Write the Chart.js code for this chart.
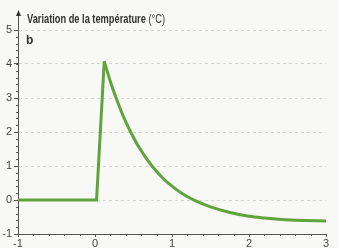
<!DOCTYPE html>
<html>
<head>
<meta charset="utf-8">
<script src="https://cdn.jsdelivr.net/npm/chart.js@4/dist/chart.umd.min.js"></script>
<style>
  html, body { margin: 0; padding: 0; background: #f8f8f6; }
  canvas { display: block; }
</style>
</head>
<body>
<canvas id="myChart" width="339" height="248"></canvas>
<script>
// temperature variation (°C) vs time
const stepX = [-1, 0.02, 0.12];
const stepY = [0, 0, 4.08];
const decayX = [0.12, 0.2, 0.28, 0.36, 0.45, 0.58, 0.74, 0.87, 0.96, 1.13, 1.3, 1.5, 1.74, 2.0, 2.2, 2.42, 2.7, 3.0];
const decayY = [4.08, 3.48, 2.97, 2.5, 2.06, 1.52, 1.0, 0.67, 0.48, 0.19, -0.02, -0.2, -0.36, -0.48, -0.53, -0.57, -0.6, -0.62];
const xTicks = [-1, 0, 1, 2, 3];
const yTicks = [-1, 0, 1, 2, 3, 4, 5];
const titleBold = "Variation de la température";
const titleUnit = " (°C)";
const panelLabel = "b";

const FONT = "'Liberation Sans', Arial, sans-serif";
const GREEN = "#5fa43a";
const AXIS = "#555";

function toPoints(xs, ys) {
  return xs.map((x, i) => ({ x: x, y: ys[i] }));
}

const decorations = {
  id: "decorations",
  afterDraw(chart) {
    const ctx = chart.ctx;
    const xs = chart.scales.x;
    const ys = chart.scales.y;
    const left = chart.chartArea.left;
    const bottom = chart.chartArea.bottom;
    const top = chart.chartArea.top;
    ctx.save();
    ctx.strokeStyle = AXIS;
    ctx.lineWidth = 1;
    // minor ticks every 0.2
    ctx.beginPath();
    for (let i = 0; i <= 20; i++) {
      const px = Math.round(xs.getPixelForValue(xTicks[0] + i * 0.2)) + 0.5;
      ctx.moveTo(px, bottom);
      ctx.lineTo(px, bottom + 2);
    }
    for (let i = 0; i <= 30; i++) {
      const py = Math.round(ys.getPixelForValue(yTicks[0] + i * 0.2)) + 0.5;
      ctx.moveTo(left, py);
      ctx.lineTo(left - 2, py);
    }
    // axis extension above the plot + arrow
    const ax = Math.round(left) + 0.5;
    ctx.moveTo(ax, top);
    ctx.lineTo(ax, 14);
    ctx.stroke();
    ctx.fillStyle = "#333";
    ctx.beginPath();
    ctx.moveTo(ax, 10);
    ctx.lineTo(ax - 2.5, 16);
    ctx.lineTo(ax + 2.5, 16);
    ctx.closePath();
    ctx.fill();
    // title, squeezed to look condensed
    ctx.fillStyle = "#333";
    ctx.textBaseline = "alphabetic";
    ctx.textAlign = "left";
    ctx.font = "bold 12px " + FONT;
    const wb = ctx.measureText(titleBold).width;
    ctx.font = "12px " + FONT;
    const wu = ctx.measureText(titleUnit).width;
    const sx = 138 / (wb + wu);
    ctx.translate(27, 23);
    ctx.scale(sx, 1);
    ctx.font = "bold 12px " + FONT;
    ctx.fillText(titleBold, 0, 0);
    ctx.font = "12px " + FONT;
    ctx.fillText(titleUnit, wb, 0);
    ctx.setTransform(1, 0, 0, 1, 0, 0);
    ctx.font = "bold 12px " + FONT;
    ctx.fillText(panelLabel, 26, 44);
    ctx.restore();
  }
};

const ctx = document.getElementById("myChart").getContext("2d");
const myChart = new Chart(ctx, {
  type: "line",
  data: {
    datasets: [
      {
        data: toPoints(stepX, stepY),
        borderColor: GREEN,
        borderWidth: 3,
        tension: 0,
        pointRadius: 0,
        borderJoinStyle: "miter",
        fill: false
      },
      {
        data: toPoints(decayX, decayY),
        borderColor: GREEN,
        borderWidth: 3,
        cubicInterpolationMode: "monotone",
        pointRadius: 0,
        fill: false
      }
    ]
  },
  options: {
    responsive: false,
    animation: false,
    devicePixelRatio: 1,
    layout: { padding: { top: 30, right: 13, left: 0, bottom: 0 } },
    plugins: {
      legend: { display: false },
      tooltip: { enabled: false }
    },
    scales: {
      x: {
        type: "linear",
        min: xTicks[0],
        max: xTicks[xTicks.length - 1],
        afterBuildTicks: (s) => { s.ticks = xTicks.map((v) => ({ value: v })); },
        afterFit: (s) => { s.height = 14; },
        grid: { drawOnChartArea: false, tickLength: 3, color: AXIS },
        border: { color: AXIS, width: 1 },
        ticks: { padding: 0, color: "#444", font: { family: FONT, size: 11 } }
      },
      y: {
        min: yTicks[0],
        max: yTicks[yTicks.length - 1],
        afterBuildTicks: (s) => { s.ticks = yTicks.map((v) => ({ value: v })); },
        afterFit: (s) => { s.width = 18; },
        grid: {
          tickLength: 4,
          tickColor: AXIS,
          color: (c) => (c.tick && c.tick.value === yTicks[0] ? "rgba(0,0,0,0)" : "#d4d4d4")
        },
        border: { color: AXIS, width: 1, dash: [3, 3] },
        ticks: { padding: 2, color: "#444", font: { family: FONT, size: 11 } }
      }
    }
  },
  plugins: [decorations]
});
</script>
</body>
</html>
